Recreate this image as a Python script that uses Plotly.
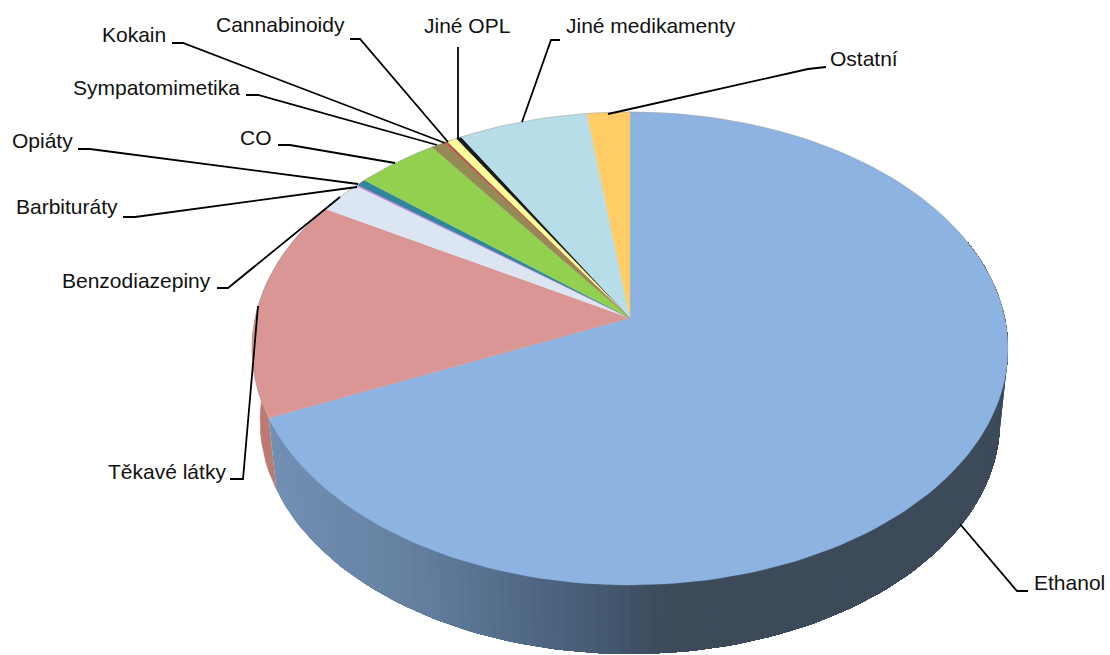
import math
import plotly.graph_objects as go

# ---- data (percent, clockwise from 12 o'clock)
categories = ["Ethanol", "Těkavé látky", "Benzodiazepiny", "Barbituráty", "Opiáty", "CO",
              "Sympatomimetika", "Kokain", "Cannabinoidy", "Jiné OPL", "Jiné medikamenty", "Ostatní"]
values = [68.3, 15.0, 2.2, 0.1, 0.45, 4.0, 0.68, 0.16, 0.48, 0.25, 6.28, 2.07]
colors = ["#8DB3E2", "#D99694", "#DCE6F2", "#C67FE0", "#31859C", "#92D050",
          "#948A54", "#C0504D", "#FFFF99", "#1A1A1A", "#B7DEE8", "#FFCC66"]

# ---- projection of the tilted disc
CX, K = 630.0, 0.129
TOP = dict(A=374.8, B=232.6, cy=318.0)
BOT = dict(A=366.9, B=229.1, cy=391.0)


def proj(deg, p):
    t = math.radians(deg)
    X, Y = math.sin(t), math.cos(t)
    w = 1 + K * Y
    return CX + p["A"] * X / w, p["cy"] - p["B"] * Y / w


def lerp(a, b, u):
    return a + (b - a) * u


GRAD = [(270, (114, 144, 181)), (400, (102, 130, 163)), (520, (82, 106, 135)),
        (610, (68, 88, 112)), (670, (60, 74, 90)), (1110, (60, 74, 90))]


def wall_color(x):
    for (x0, c0), (x1, c1) in zip(GRAD, GRAD[1:]):
        if x <= x1:
            u = max(0.0, (x - x0) / (x1 - x0))
            c = [lerp(a, b, u) for a, b in zip(c0, c1)]
            return "rgb(%d,%d,%d)" % tuple(c)
    return "rgb(60,74,90)"


fig = go.Figure()


def poly(xs, ys, fill, line=None, width=0.0):
    fig.add_trace(go.Scatter(x=xs, y=ys, mode="lines", fill="toself", fillcolor=fill,
                             line=dict(color=line or fill, width=width),
                             hoverinfo="skip", showlegend=False))


total = sum(values)
angles = [0.0]
for v in values:
    angles.append(angles[-1] + v / total * 360)

# red side wall (left of the Ethanol slice)
end_eth, end_tek = angles[1], angles[2]
n = 24
tp = [proj(lerp(end_eth, min(end_tek, 300), i / n), TOP) for i in range(n + 1)]
bt = [proj(lerp(end_eth, min(end_tek, 300), i / n), BOT) for i in range(n + 1)]
poly([p[0] for p in tp] + [p[0] for p in bt[::-1]],
     [p[1] for p in tp] + [p[1] for p in bt[::-1]], "#BC7A72", "#BC7A72", 0.5)

# blue side wall: successive over-painting from left to right gives seamless shading
END = 70.0
step = 1.5
a = end_eth
while a > END:
    span = []
    d = a
    while d > END:
        span.append(d)
        d -= step
    span.append(END)
    t_pts = [proj(d, TOP) for d in span]
    b_pts = [proj(d, BOT) for d in span]
    col = wall_color((t_pts[0][0] + t_pts[min(1, len(t_pts) - 1)][0]) / 2)
    poly([p[0] for p in t_pts] + [p[0] for p in b_pts[::-1]] + [t_pts[0][0]],
         [p[1] for p in t_pts] + [p[1] for p in b_pts[::-1]] + [t_pts[0][1]], col)
    a -= step

# top face
for i, c in enumerate(colors):
    a0, a1 = angles[i], angles[i + 1]
    m = max(2, int((a1 - a0) / 1.5) + 1)
    pts = [proj(lerp(a0, a1, j / m), TOP) for j in range(m + 1)]
    poly([CX] + [p[0] for p in pts] + [CX], [TOP["cy"]] + [p[1] for p in pts] + [TOP["cy"]], c, c, 0.3)

# thin grey rim at the back of the disc
for rng in (range(250, 361, 2), range(0, 92, 2)):
    arc = [proj(d, TOP) for d in rng]
    fig.add_trace(go.Scatter(x=[p[0] for p in arc], y=[p[1] for p in arc], mode="lines",
                             line=dict(color="rgba(160,160,160,0.55)", width=1),
                             hoverinfo="skip", showlegend=False))

# ---- leader lines and labels (layout, not data)
leaders = {
    "Ethanol": [(1028, 591), (1017, 591), (960, 524)],
    "Těkavé látky": [(230, 479), (243, 479), (258, 306)],
    "Benzodiazepiny": [(217, 288), (228, 288), (340, 197)],
    "Barbituráty": [(123, 217), (135, 217), (357, 187)],
    "Opiáty": [(78, 149), (90, 149), (358, 184)],
    "CO": [(278, 145), (290, 145), (395, 163)],
    "Sympatomimetika": [(246, 95), (258, 95), (437, 145)],
    "Kokain": [(172, 43), (183, 43), (445, 143)],
    "Cannabinoidy": [(350, 39), (360, 39), (448, 142)],
    "Jiné OPL": [(458, 47), (458, 139)],
    "Jiné medikamenty": [(560, 40), (551, 40), (522, 122)],
    "Ostatní": [(826, 67), (808, 69), (608, 114)],
}
label_pos = {
    "Ethanol": (1032, 582, "left"),
    "Těkavé látky": (228, 471, "right"),
    "Benzodiazepiny": (213, 280, "right"),
    "Barbituráty": (120, 206, "right"),
    "Opiáty": (75, 140, "right"),
    "CO": (274, 137, "right"),
    "Sympatomimetika": (242, 87, "right"),
    "Kokain": (168, 34, "right"),
    "Cannabinoidy": (347, 24, "right"),
    "Jiné OPL": (512, 25, "right"),
    "Jiné medikamenty": (564, 25, "left"),
    "Ostatní": (828, 58, "left"),
}
for name in categories:
    pts = leaders[name]
    fig.add_trace(go.Scatter(x=[p[0] for p in pts], y=[p[1] for p in pts], mode="lines",
                             line=dict(color="#000000", width=1.8),
                             hoverinfo="skip", showlegend=False))
    x, y, anchor = label_pos[name]
    fig.add_annotation(x=x, y=y, text=name, showarrow=False, xanchor=anchor, yanchor="middle",
                       font=dict(family="Liberation Sans, Arial", size=21, color="#111111"))

fig.update_layout(width=1110, height=655, margin=dict(l=0, r=0, t=0, b=0),
                  paper_bgcolor="white", plot_bgcolor="white", showlegend=False,
                  xaxis=dict(range=[0, 1110], visible=False, fixedrange=True),
                  yaxis=dict(range=[655, 0], visible=False, fixedrange=True))
fig.write_html("out.html", config={"displayModeBar": False},
               post_script="document.body.style.margin='0';document.body.style.overflow='hidden';")
